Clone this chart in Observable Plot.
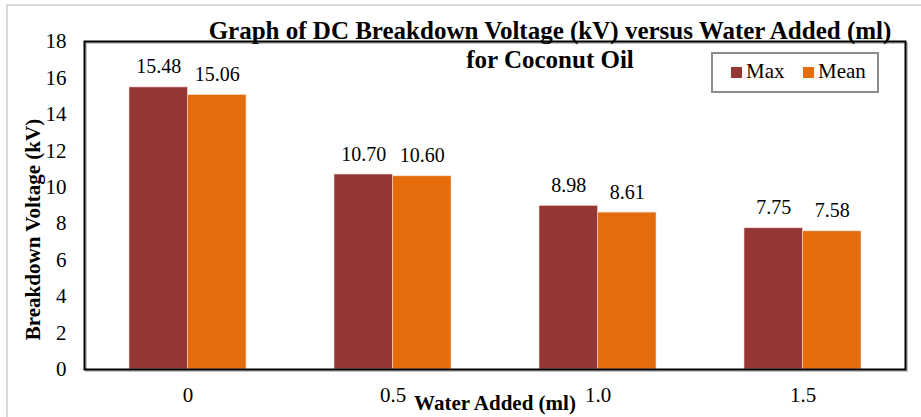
<!DOCTYPE html>
<html><head><meta charset="utf-8">
<script src="https://cdn.jsdelivr.net/npm/d3@7"></script>
<script src="https://cdn.jsdelivr.net/npm/@observablehq/plot@0.6"></script>
<style>body{margin:0;background:#fff}</style>
</head><body><div id="chart"></div>
<script>
const categories = ["0", "0.5", "1.0", "1.5"];
const series = ["Max", "Mean"];
const maxValues = [15.48, 10.70, 8.98, 7.75];
const meanValues = [15.06, 10.60, 8.61, 7.58];
const yTicks = [0, 2, 4, 6, 8, 10, 12, 14, 16, 18];
const colors = ["#953735", "#E46C0A"];
const titleText = "Graph of DC Breakdown Voltage (kV) versus Water Added (ml)\nfor Coconut Oil";
const xLabel = "Water Added (ml)";
const yLabel = "Breakdown Voltage (kV)";

const rows = categories.flatMap((c, i) => [
  {cat: c, series: "Max", value: maxValues[i]},
  {cat: c, series: "Mean", value: meanValues[i]}
]);
const maxRows = rows.filter(d => d.series === "Max");
const meanRows = rows.filter(d => d.series === "Mean");

const W = 921, H = 417, mL = 84, mR = 16, mT = 41, mB = 48;
const pIn = 0.43, pOut = 0.215;
const step = (W - mL - mR) / (categories.length - pIn + 2 * pOut);
const bw = step * (1 - pIn);
const fmt = d3.format(".2f");
const font = "Liberation Serif, Times New Roman, serif";

const plot = Plot.plot({
  width: W, height: H,
  marginLeft: mL, marginRight: mR, marginTop: mT, marginBottom: mB,
  style: {fontFamily: font, fontSize: "21px", color: "#000", background: "transparent", overflow: "visible"},
  x: {domain: categories, paddingInner: pIn, paddingOuter: pOut, label: null},
  y: {domain: [0, 18], label: null},
  color: {domain: series, range: colors},
  marks: [
    Plot.barY(maxRows, {x: "cat", y: "value", fill: "series", insetRight: bw / 2, stroke: "#f4d9d0", strokeWidth: 0.6}),
    Plot.barY(meanRows, {x: "cat", y: "value", fill: "series", insetLeft: bw / 2, stroke: "#f4d9d0", strokeWidth: 0.6}),
    Plot.text(maxRows, {x: "cat", y: "value", text: d => fmt(d.value), dx: -bw / 4, dy: -14, lineAnchor: "bottom", fontSize: 20, fontFamily: font}),
    Plot.text(meanRows, {x: "cat", y: "value", text: d => fmt(d.value), dx: bw / 4, dy: -14, lineAnchor: "bottom", fontSize: 20, fontFamily: font}),
    Plot.axisY({ticks: yTicks, tickSize: 0, tickPadding: 18, fontSize: 21, fontFamily: font, label: null}),
    Plot.axisX({tickSize: 0, tickPadding: 18, fontSize: 21, fontFamily: font, label: null}),
    Plot.frame({stroke: "#b0b0b0", strokeWidth: 1.5, dx: 1.5, dy: 1.5}),
    Plot.frame({stroke: "#000", strokeWidth: 2}),
    Plot.text([titleText], {text: d => d, frameAnchor: "top", textAnchor: "middle", dx: 55, dy: 26, lineAnchor: "bottom", lineHeight: 1.16, fontSize: 25, fontWeight: "bold", fontFamily: font}),
    Plot.text([xLabel], {text: d => d, frameAnchor: "bottom", textAnchor: "middle", dy: 40, lineAnchor: "bottom", fontSize: 21, fontWeight: "bold", fontFamily: font}),
    Plot.text([yLabel], {text: d => d, frameAnchor: "left", textAnchor: "middle", rotate: -90, dx: -51, dy: 24, lineAnchor: "middle", fontSize: 21, fontWeight: "bold", fontFamily: font})
  ]
});

// outer chart-area border (top and left edges visible)
const svg = d3.select(plot);
svg.insert("rect", ":first-child")
  .attr("x", 7).attr("y", 5).attr("width", W * 2).attr("height", H * 2)
  .attr("fill", "none").attr("stroke", "#d9d9d9").attr("stroke-width", 2);

// legend box inside the plot area
const lgX = W - mR - 27 - 166, lgY = mT + 12, lgW = 166, lgH = 39;
const lg = svg.append("g").attr("font-family", font).attr("font-size", 21).attr("text-anchor", "start");
lg.append("rect").attr("x", lgX).attr("y", lgY).attr("width", lgW).attr("height", lgH)
  .attr("fill", "#fff").attr("stroke", "#8c8c8c").attr("stroke-width", 2);
const itemX = [lgX + 19, lgX + 91];
series.forEach((s, i) => {
  lg.append("rect").attr("x", itemX[i]).attr("y", lgY + 14).attr("width", 11).attr("height", 11).attr("fill", colors[i]);
  lg.append("text").attr("x", itemX[i] + 15).attr("y", lgY + 25).attr("text-anchor", "start").attr("fill", "#000").text(s);
});

document.getElementById("chart").appendChild(plot);
</script>
</body></html>
